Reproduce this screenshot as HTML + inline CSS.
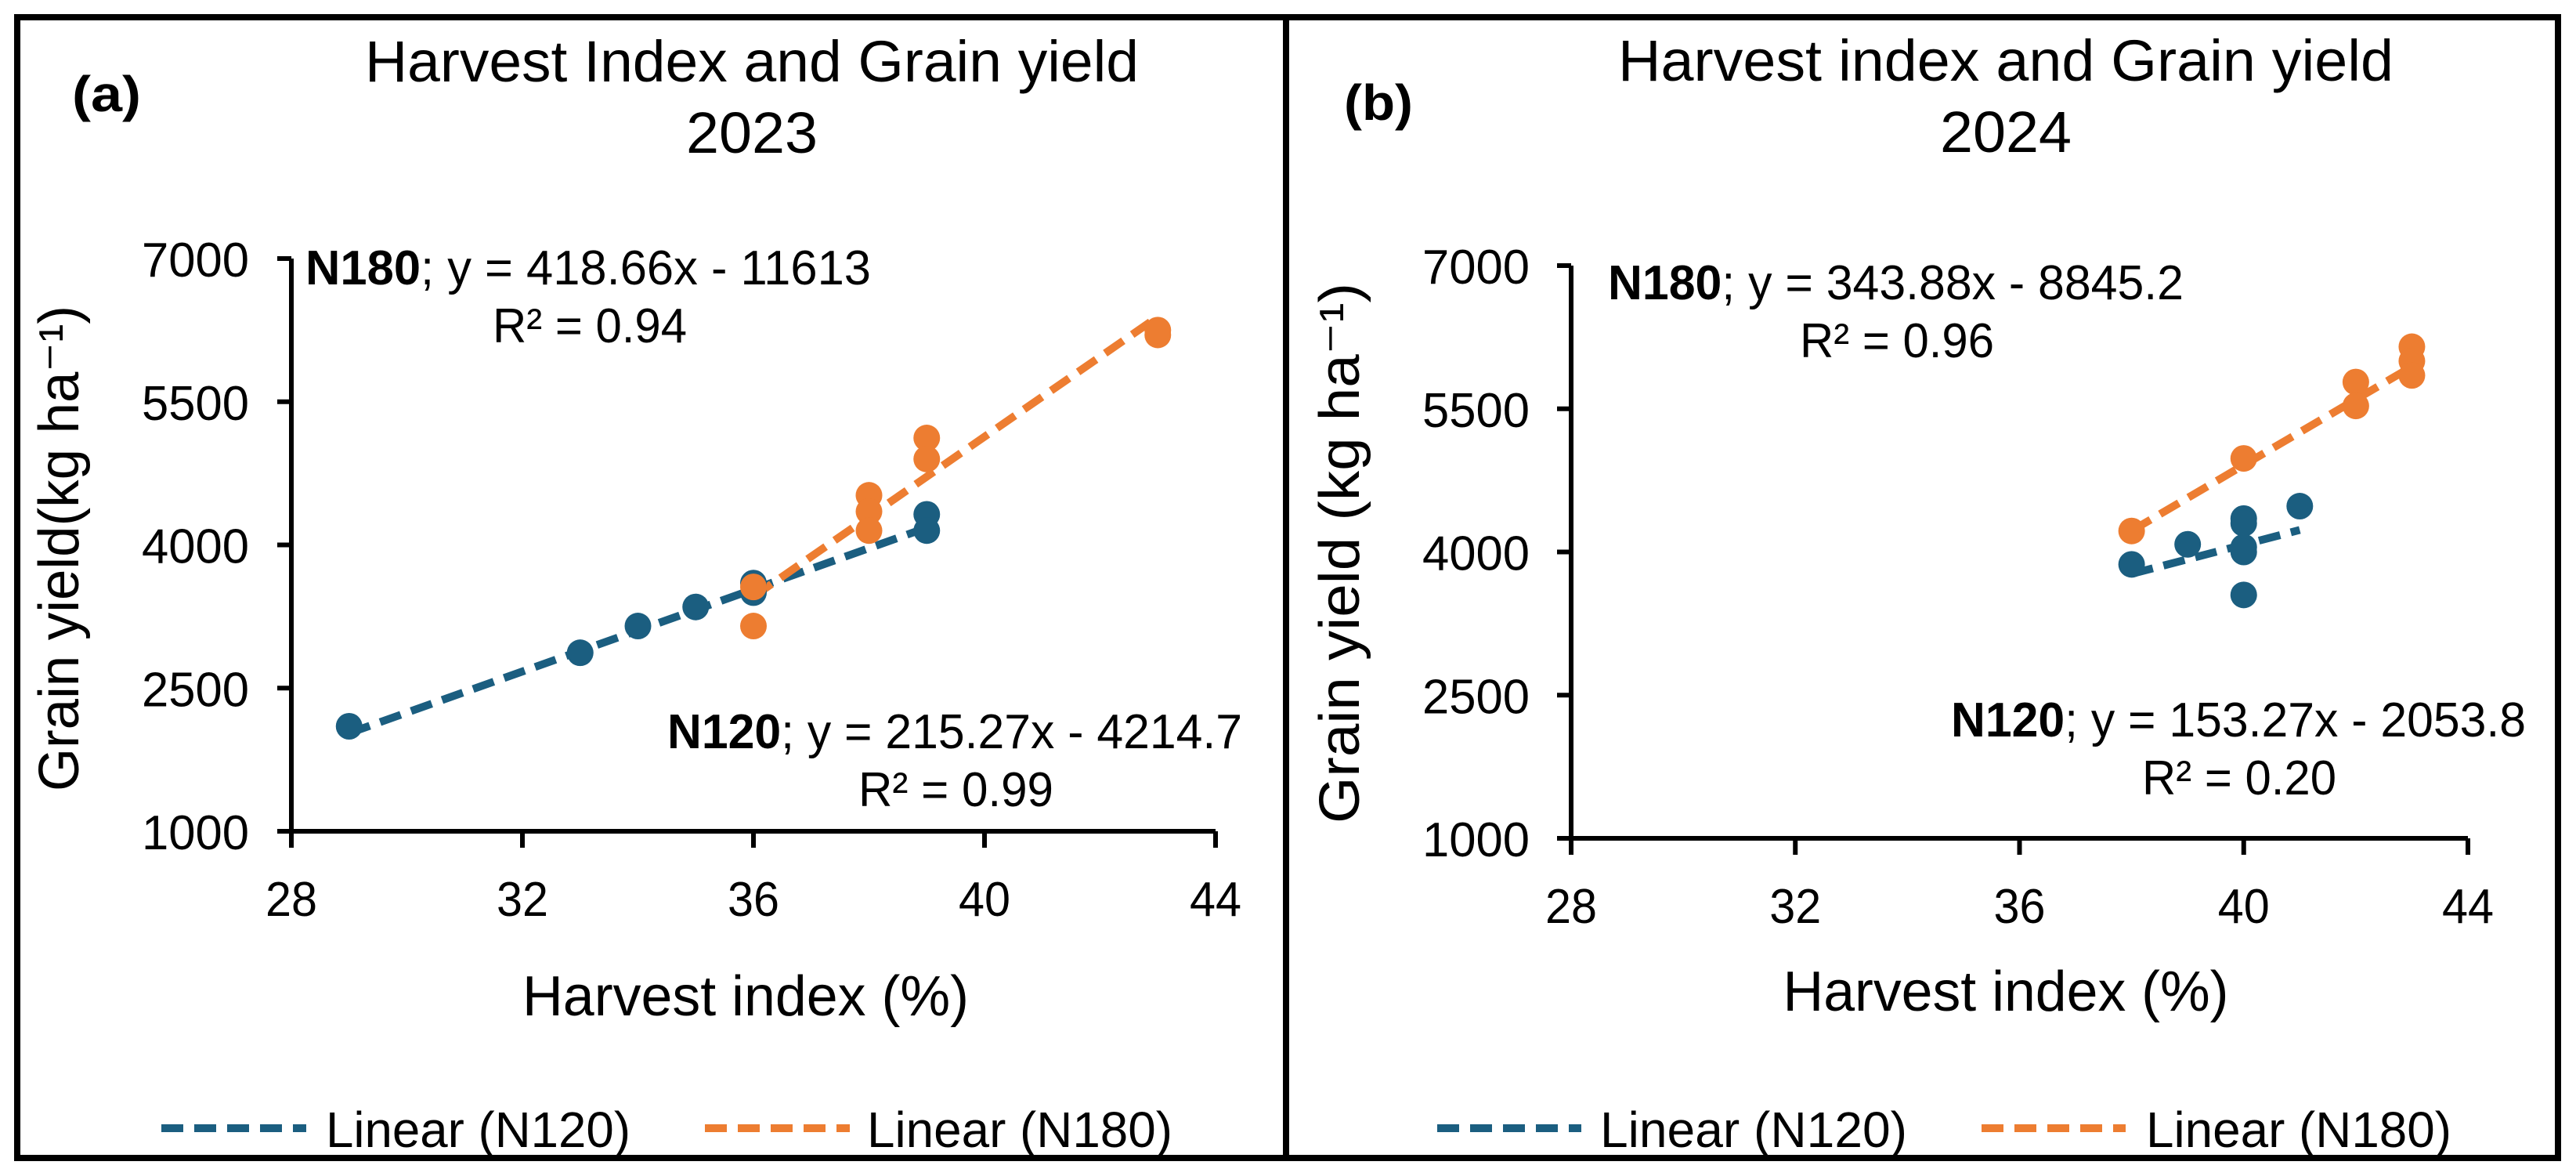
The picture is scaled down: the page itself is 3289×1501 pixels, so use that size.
<!DOCTYPE html>
<html><head><meta charset="utf-8"><style>
html,body{margin:0;padding:0;background:#fff;}
svg{display:block;font-family:"Liberation Sans",sans-serif;}
</style></head><body>
<svg id="fig" width="3289" height="1501" viewBox="0 0 3289 1501" xmlns="http://www.w3.org/2000/svg">
<rect x="22" y="22" width="3244" height="1456" fill="#fff" stroke="#000" stroke-width="8"/>
<line x1="1642" y1="22" x2="1642" y2="1478" stroke="#000" stroke-width="8"/>
</svg>
<script>
const xTicks = [28, 32, 36, 40, 44];
const yTicks = [1000, 2500, 4000, 5500, 7000];
const a_n120_x = [29, 33, 34, 35, 36, 36, 39, 39];
const a_n120_y = [2100, 2870, 3150, 3350, 3600, 3500, 4320, 4150];
const a_n180_x = [36, 36, 38, 38, 38, 39, 39, 43, 43];
const a_n180_y = [3560, 3150, 4520, 4350, 4150, 5120, 4900, 6200, 6250];
const b_n120_x = [38, 39, 40, 40, 40, 40, 40, 41];
const b_n120_y = [3870, 4080, 4350, 4300, 4050, 4000, 3550, 4480];
const b_n180_x = [38, 40, 42, 42, 43, 43, 43];
const b_n180_y = [4220, 4980, 5780, 5530, 6150, 6000, 5850];
const a_fit120 = [215.27, -4214.7, 29, 39];
const a_fit180 = [418.66, -11613, 36, 43];
const b_fit120 = [153.27, -2053.8, 38, 41];
const b_fit180 = [343.88, -8845.2, 38, 43];

const BLUE = '#1b5e80', ORANGE = '#ed7d31';
const svg = document.getElementById('fig');
const NS = 'http://www.w3.org/2000/svg';
function mk(tag, attrs, parent) {
  const e = document.createElementNS(NS, tag);
  for (const k in attrs) e.setAttribute(k, attrs[k]);
  (parent || svg).appendChild(e);
  return e;
}
function txt(parent, str, x, y, size, opts) {
  opts = opts || {};
  const t = mk('text', {x: x, y: y, 'font-size': size, 'text-anchor': opts.anchor || 'start', fill: '#000'}, parent);
  if (opts.len) { t.setAttribute('textLength', opts.len); t.setAttribute('lengthAdjust', 'spacingAndGlyphs'); }
  if (opts.weight) t.setAttribute('font-weight', opts.weight);
  if (opts.transform) t.setAttribute('transform', opts.transform);
  t.textContent = str;
  return t;
}

function panel(cfg) {
  const g = mk('g', {});
  
  
  const X = v => cfg.x0 + (v - 28) / 16 * (cfg.x1 - cfg.x0);
  const Y = v => cfg.y0 - (v - 1000) / 6000 * (cfg.y0 - cfg.y1);
  const ax = mk('line', {x1: X(28), y1: cfg.y0, x2: X(44), y2: cfg.y0, stroke: '#000', 'stroke-width': 6}, g);
  
  
  const ay = mk('line', {x1: X(28), y1: cfg.y0, x2: X(28), y2: Y(7000), stroke: '#000', 'stroke-width': 6}, g);
  
  
  xTicks.forEach(v => {
    const tk = mk('line', {x1: X(v), y1: cfg.y0, x2: X(v), y2: cfg.y0 + 21, stroke: '#000', 'stroke-width': 6}, g);
    
    
    const tl = txt(g, String(v), X(v), cfg.y0 + 108, 62, {anchor: 'middle', len: 66});
    
    
  });
  yTicks.forEach(v => {
    const tk = mk('line', {x1: X(28) - 18, y1: Y(v), x2: X(28), y2: Y(v), stroke: '#000', 'stroke-width': 6}, g);
    
    
    const tl = txt(g, String(v), cfg.yLabelRight, Y(v) + 23, 62, {anchor: 'end', len: 137});
    
    
  });
  [[cfg.fit120, BLUE, 'trendline-n120'], [cfg.fit180, ORANGE, 'trendline-n180']].forEach(f => {
    const p = f[0];
    const ln = mk('line', {x1: X(p[2]), y1: Y(p[0] * p[2] + p[1]), x2: X(p[3]), y2: Y(p[0] * p[3] + p[1]),
      stroke: f[1], 'stroke-width': 10, 'stroke-dasharray': '28 14'}, g);
    
    
  });
  [[cfg.n120x, cfg.n120y, BLUE, 'point-n120'], [cfg.n180x, cfg.n180y, ORANGE, 'point-n180']].forEach(s => {
    s[0].forEach((xv, i) => {
      const c = mk('circle', {cx: X(xv), cy: Y(s[1][i]), r: 17, fill: s[2]}, g);
      
      
    });
  });
  const t1 = txt(g, cfg.title, cfg.titleX, cfg.titleY, 74, {anchor: 'middle', len: cfg.titleLen});
  
  
  const t2 = txt(g, cfg.year, cfg.titleX, cfg.titleY + 91, 74, {anchor: 'middle', len: 168});
  
  
  const pl = txt(g, cfg.tag, cfg.tagX, cfg.tagY, 64, {weight: 'bold', len: 88});
  
  
  cfg.eqs.forEach(e => {
    const t = mk('text', {x: e.x, y: e.y, 'font-size': 62, textLength: e.len, lengthAdjust: 'spacingAndGlyphs'}, g);
    
    
    const b = mk('tspan', {'font-weight': 'bold'}, t); b.textContent = e.bold;
    const r = mk('tspan', {}, t); r.textContent = e.rest;
    const r2 = txt(g, e.r2, e.rx, e.y + 74, 62, {len: e.rlen});
    
    
  });
  const xt = txt(g, 'Harvest  index (%)', cfg.xtX, cfg.xtY, 72, {anchor: 'middle', len: cfg.xtLen});
  
  
  const yt = txt(g, cfg.ytitle, 0, 0, 72, {anchor: 'middle', len: cfg.ytLen, transform: 'translate(' + cfg.ytX + ',' + cfg.ytY + ') rotate(-90)'});
  
  
  cfg.legend.forEach(l => {
    const lg = mk('g', {}, g);
    
    
    mk('line', {x1: l.lx1, y1: 1440, x2: l.lx2, y2: 1440, stroke: l.color, 'stroke-width': 10, 'stroke-dasharray': '28 14'}, lg);
    txt(lg, l.label, l.tx, 1464, 64, {len: l.tlen});
  });
}

panel({
  name: 'panel-a-2023', x0: 372, x1: 1552, y0: 1061, y1: 330, yLabelRight: 318,
  n120x: a_n120_x, n120y: a_n120_y, n180x: a_n180_x, n180y: a_n180_y, fit120: a_fit120, fit180: a_fit180,
  title: 'Harvest Index and Grain yield', year: '2023', titleX: 960, titleY: 104, titleLen: 988,
  tag: '(a)', tagX: 92, tagY: 142,
  eqs: [
    {name: 'equation-n180', bold: 'N180', rest: '; y = 418.66x - 11613', x: 390, y: 363, len: 722, r2: 'R² = 0.94', rx: 629, rlen: 248},
    {name: 'equation-n120', bold: 'N120', rest: '; y = 215.27x - 4214.7', x: 852, y: 955, len: 734, r2: 'R² = 0.99', rx: 1096, rlen: 249}
  ],
  xtX: 952, xtY: 1296, xtLen: 570, ytitle: 'Grain yield(kg ha\u207B\u00B9)', ytX: 100, ytY: 700, ytLen: 620,
  legend: [
    {name: 'legend-n120', color: BLUE, lx1: 206, lx2: 391, tx: 416, tlen: 389, label: 'Linear (N120)'},
    {name: 'legend-n180', color: ORANGE, lx1: 900, lx2: 1085, tx: 1107, tlen: 390, label: 'Linear (N180)'}
  ]
});
panel({
  name: 'panel-b-2024', x0: 2006, x1: 3151, y0: 1070, y1: 339, yLabelRight: 1953,
  n120x: b_n120_x, n120y: b_n120_y, n180x: b_n180_x, n180y: b_n180_y, fit120: b_fit120, fit180: b_fit180,
  title: 'Harvest index and Grain yield', year: '2024', titleX: 2561, titleY: 103, titleLen: 990,
  tag: '(b)', tagX: 1716, tagY: 153,
  eqs: [
    {name: 'equation-n180', bold: 'N180', rest: '; y = 343.88x - 8845.2', x: 2053, y: 382, len: 735, r2: 'R² = 0.96', rx: 2298, rlen: 248},
    {name: 'equation-n120', bold: 'N120', rest: '; y = 153.27x - 2053.8', x: 2491, y: 940, len: 734, r2: 'R² = 0.20', rx: 2735, rlen: 248}
  ],
  xtX: 2561, xtY: 1290, xtLen: 569, ytitle: 'Grain yield (kg ha\u207B\u00B9)', ytX: 1735, ytY: 706, ytLen: 690,
  legend: [
    {name: 'legend-n120', color: BLUE, lx1: 1835, lx2: 2019, tx: 2043, tlen: 392, label: 'Linear (N120)'},
    {name: 'legend-n180', color: ORANGE, lx1: 2530, lx2: 2714, tx: 2740, tlen: 390, label: 'Linear (N180)'}
  ]
});
</script>
</body></html>
